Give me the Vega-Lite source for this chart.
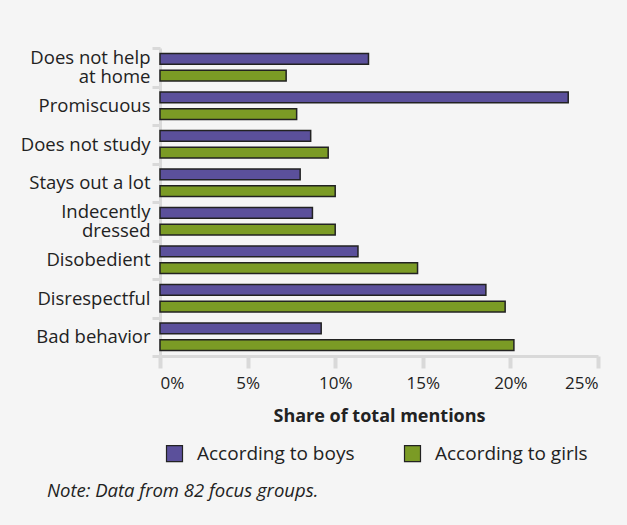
{
  "$schema": "https://vega.github.io/schema/vega-lite/v6.json",
  "width": 438,
  "height": 308,
  "autosize": {"type": "none"},
  "padding": {"left": 160, "top": 48, "right": 29, "bottom": 169},
  "background": "#f5f5f5",
  "title": {
    "text": "Note: Data from 82 focus groups.",
    "orient": "bottom",
    "anchor": "start",
    "frame": "group",
    "dx": -113,
    "offset": 18,
    "font": "Open Sans",
    "fontSize": 18.5,
    "fontStyle": "italic",
    "fontWeight": "normal",
    "color": "#222222"
  },
  "data": {
    "values": [
      {"category": "Does not help|at home", "group": "According to boys", "value": 0.119},
      {"category": "Does not help|at home", "group": "According to girls", "value": 0.072},
      {"category": "Promiscuous", "group": "According to boys", "value": 0.233},
      {"category": "Promiscuous", "group": "According to girls", "value": 0.078},
      {"category": "Does not study", "group": "According to boys", "value": 0.086},
      {"category": "Does not study", "group": "According to girls", "value": 0.096},
      {"category": "Stays out a lot", "group": "According to boys", "value": 0.080},
      {"category": "Stays out a lot", "group": "According to girls", "value": 0.100},
      {"category": "Indecently|dressed", "group": "According to boys", "value": 0.087},
      {"category": "Indecently|dressed", "group": "According to girls", "value": 0.100},
      {"category": "Disobedient", "group": "According to boys", "value": 0.113},
      {"category": "Disobedient", "group": "According to girls", "value": 0.147},
      {"category": "Disrespectful", "group": "According to boys", "value": 0.186},
      {"category": "Disrespectful", "group": "According to girls", "value": 0.197},
      {"category": "Bad behavior", "group": "According to boys", "value": 0.092},
      {"category": "Bad behavior", "group": "According to girls", "value": 0.202}
    ]
  },
  "mark": {"type": "bar", "stroke": "#222222", "strokeWidth": 1.5},
  "encoding": {
    "y": {
      "field": "category",
      "type": "nominal",
      "sort": null,
      "scale": {"paddingInner": 0, "paddingOuter": 0},
      "axis": {
        "title": null,
        "labelExpr": "split(datum.label, '|')",
        "labelFont": "Open Sans",
        "labelFontSize": 18.5,
        "labelColor": "#222222",
        "labelLineHeight": 19,
        "labelPadding": 2,
        "labelOffset": {"condition": {"test": "indexof(datum.label, '|') >= 0", "value": -9.5}, "value": 0},
        "tickBand": "extent",
        "tickSize": 8,
        "tickWidth": 3,
        "tickColor": "#d9d9d9",
        "domainColor": "#d9d9d9",
        "domainWidth": 3,
        "grid": false
      }
    },
    "yOffset": {
      "field": "group",
      "type": "nominal",
      "scale": {"paddingInner": 0.36, "paddingOuter": 0.33}
    },
    "x": {
      "field": "value",
      "type": "quantitative",
      "scale": {"domain": [0, 0.25], "nice": false},
      "axis": {
        "title": "Share of total mentions",
        "titleFont": "Open Sans",
        "titleFontSize": 18,
        "titleFontWeight": "bold",
        "titleColor": "#222222",
        "titlePadding": 16,
        "format": ".0%",
        "values": [0, 0.05, 0.1, 0.15, 0.2, 0.25],
        "labelFont": "Open Sans",
        "labelFontSize": 17,
        "labelColor": "#222222",
        "labelPadding": 7,
        "tickSize": 12,
        "tickWidth": 4,
        "tickColor": "#d9d9d9",
        "domainColor": "#d9d9d9",
        "domainWidth": 3,
        "grid": false
      }
    },
    "color": {
      "field": "group",
      "type": "nominal",
      "scale": {"domain": ["According to boys", "According to girls"], "range": ["#5b509b", "#7b9b25"]},
      "legend": {
        "title": null,
        "orient": "none",
        "direction": "horizontal",
        "legendX": 5,
        "legendY": 396,
        "symbolType": "square",
        "symbolSize": 256,
        "symbolStrokeColor": "#222222",
        "symbolStrokeWidth": 1.2,
        "symbolOpacity": 1,
        "labelFont": "Open Sans",
        "labelFontSize": 19,
        "labelFontWeight": 500,
        "labelColor": "#222222",
        "labelOffset": 13,
        "columnPadding": 47
      }
    }
  },
  "config": {"view": {"stroke": null}}
}
